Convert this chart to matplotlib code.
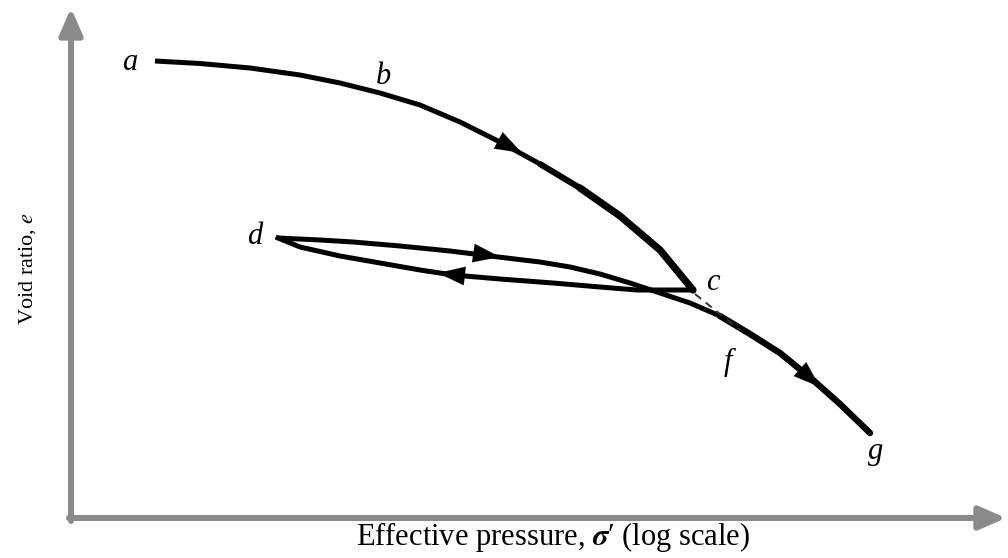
import matplotlib
matplotlib.use("Agg")
import matplotlib.pyplot as plt

plt.rcParams["mathtext.fontset"] = "stix"

# Schematic e-log(sigma') curve, coordinates in the picture frame (x right, y down)
virgin_x = [155, 200, 250, 300, 340, 380, 420, 460, 500, 540, 580, 620, 660, 693]
virgin_y = [61, 63.5, 68, 75, 83, 93, 105, 122, 142, 164, 188, 216, 250, 290]

unload_x = [693, 637, 600, 553, 500, 453, 420, 380, 340, 300, 278]
unload_y = [290, 290, 287, 283, 279, 275, 270, 263, 256, 247, 238]

reload_x = [278, 320, 353, 400, 450, 490, 540, 570, 600, 630, 660, 690, 720,
            750, 780, 813, 840, 870]
reload_y = [238, 240, 242, 246, 251, 256, 262, 267, 274, 283, 293, 303, 316,
            334, 353, 380, 404, 433]

dash_x = [695, 740]
dash_y = [294, 330]

point_labels = ["a", "b", "c", "d", "f", "g"]
label_x = [130, 383, 713, 255, 728, 876]
label_y = [62, 76, 283, 237, 362, 451]

# arrow positions (tail, head) along curves
arrows = [((492, 137), (522, 153)),
          ((466, 252), (500, 257)),
          ((474, 277), (438, 273)),
          ((792, 362), (820, 387))]

fig = plt.figure(figsize=(10.08, 5.58), dpi=100)
ax = fig.add_axes([0, 0, 1, 1])
ax.set_xlim(0, 1008)
ax.set_ylim(558, 0)
ax.axis("off")

gray = "#8a8a8a"
# axes arrows
ax.annotate("", xy=(71, 8), xytext=(71, 521),
            arrowprops=dict(arrowstyle="-|>,head_length=1.6,head_width=0.7",
                            color=gray, lw=4.3, shrinkA=0, shrinkB=0))
ax.annotate("", xy=(1006, 518), xytext=(69, 518),
            arrowprops=dict(arrowstyle="-|>,head_length=1.6,head_width=0.7",
                            color=gray, lw=4.3, shrinkA=0, shrinkB=0))

# virgin compression curve, thicker towards c
ax.plot(virgin_x, virgin_y, color="black", lw=3.6,
        solid_joinstyle="round", solid_capstyle="butt")
ax.plot(virgin_x[9:], virgin_y[9:], color="black", lw=4.4,
        solid_joinstyle="round", solid_capstyle="round")
ax.plot(virgin_x[10:], virgin_y[10:], color="black", lw=5.2,
        solid_joinstyle="round", solid_capstyle="round")
# unloading and reloading
ax.plot(unload_x, unload_y, color="black", lw=3.6, solid_joinstyle="round")
ax.plot(reload_x, reload_y, color="black", lw=3.6, solid_joinstyle="round",
        solid_capstyle="butt")
ax.plot(reload_x[12:], reload_y[12:], color="black", lw=4.6,
        solid_joinstyle="round", solid_capstyle="round")
ax.plot(dash_x, dash_y, color="#333333", lw=1.4, ls=(0, (4, 3)))

for (t, h) in arrows:
    ax.annotate("", xy=h, xytext=t,
                arrowprops=dict(arrowstyle="-|>,head_length=1.2,head_width=0.42",
                                mutation_scale=16, color="black", lw=0.1,
                                shrinkA=0, shrinkB=0))

for s, x, y in zip(point_labels, label_x, label_y):
    ax.text(x, y, s, fontsize=22, family="Liberation Serif", style="italic",
            ha="center", va="center")

ax.text(553, 537, "Effective pressure, $\\boldsymbol{\\sigma}$\u2032 (log scale)",
        fontsize=22, family="Liberation Serif", ha="center", va="center")
ax.text(28, 268, "Void ratio, $e$", fontsize=16, family="Liberation Serif",
        rotation=90, ha="center", va="center")

fig.savefig("out.png", dpi=100)
